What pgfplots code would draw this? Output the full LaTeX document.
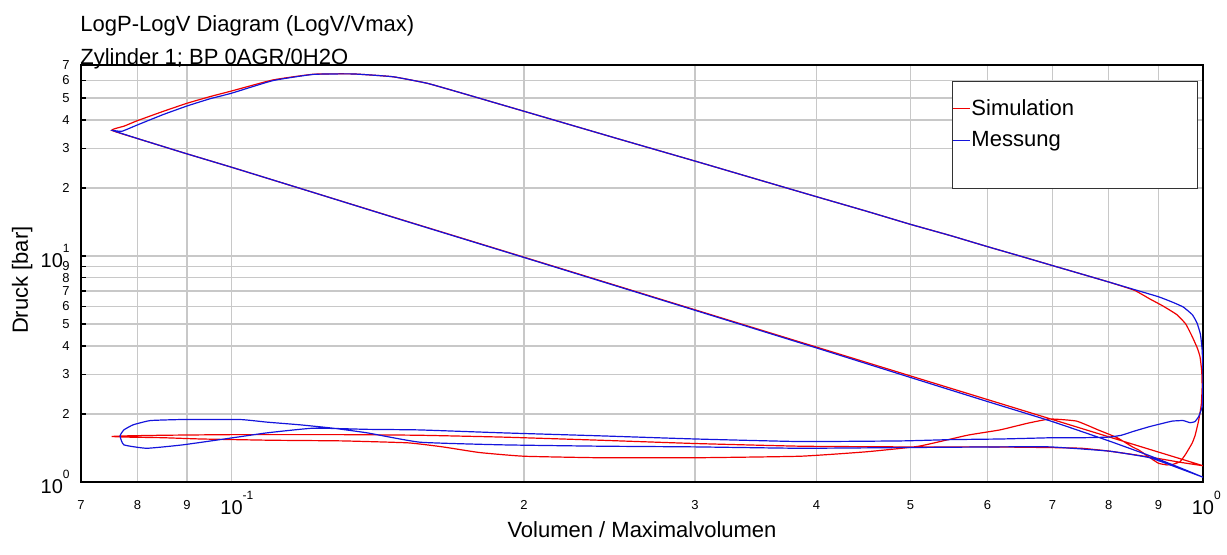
\documentclass[border=0pt]{standalone}
\usepackage{fontspec}
\setmainfont{Liberation Sans}
\usepackage{pgfplots}
\pgfplotsset{compat=1.18}
\definecolor{simred}{RGB}{240,0,0}
\definecolor{mesblue}{RGB}{20,20,220}
\definecolor{gridgray}{RGB}{200,200,200}
\newcommand{\mn}[1]{{\fontsize{6.5}{7}\selectfont #1}}
\newcommand{\xmj}[1]{{\fontsize{10}{11}\selectfont\makebox[0pt][c]{10\rlap{\smash{\raisebox{7.3pt}{\fontsize{6}{7}\selectfont #1}}}}}}
\newcommand{\ymj}[1]{{\fontsize{10}{11}\selectfont 10\raisebox{7.3pt}{\fontsize{6}{7}\selectfont #1}}}
\begin{document}
\begin{tikzpicture}
\begin{axis}[
  name=ax,
  scale only axis,
  width=561pt, height=208.5pt,
  xmode=log, ymode=log,
  xmin=0.07, xmax=1, ymin=1, ymax=70,
  xtick={0.07,0.08,0.09,0.1,0.2,0.3,0.4,0.5,0.6,0.7,0.8,0.9,1},
  xticklabels={\mn{7},\mn{8},\mn{9},\xmj{-1},\mn{2},\mn{3},\mn{4},\mn{5},\mn{6},\mn{7},\mn{8},\mn{9},\xmj{0}},
  ytick={1,2,3,4,5,6,7,8,9,10,20,30,40,50,60,70},
  yticklabels={\ymj{0},\mn{2},\mn{3},\mn{4},\mn{5},\mn{6},\mn{7},\mn{8},\mn{9},\ymj{1},\mn{2},\mn{3},\mn{4},\mn{5},\mn{6},\mn{7}},
  xticklabel style={anchor=north, inner sep=0pt, yshift=-9pt},
  yticklabel style={anchor=east, inner sep=0pt, xshift=-5.5pt},
  grid=major,
  major grid style={gridgray, line width=0.6pt},
  tick align=inside,
  major tick length=2.5pt,
  xtick style={draw=none},
  ytick style={black, line width=0.6pt},
  xtick pos=bottom, ytick pos=left,
  axis line style={black, line width=0.8pt},
  legend style={at={(1,1)}, anchor=north east, xshift=-2.5pt, yshift=-8pt,
    draw=black!80, line width=0.5pt, inner xsep=0pt, inner ysep=6.8pt, row sep=2.55pt,
    font=\fontsize{11}{13}\selectfont,
    nodes={inner xsep=0.5pt, inner ysep=2pt}},
  legend cell align=left,
  legend image code/.code={\draw[#1, line width=0.6pt] (0pt,0pt) -- (8.5pt,0pt);},
]
\addplot[simred, line width=0.6pt, smooth, tension=0.25] coordinates {
(1,1.18) (0.95,1.263) (0.9,1.356) (0.8,1.584) (0.7,1.89) (0.6,2.316) (0.5,2.946) (0.4,3.955) (0.3,5.78) (0.2,9.88) (0.15,14.43) (0.12,19.4) (0.1,24.7) (0.09,28.3) (0.08,33.1) (0.0753,36.0)
(0.0776,37.6) (0.0799,39.6) (0.085,43.6) (0.090,47.4) (0.095,50.7) (0.100,53.7) (0.1103,60.1) (0.1214,63.7) (0.1334,63.9) (0.1466,62.1) (0.159,58.1) (0.172,52.8)
(0.2,43.7) (0.25,33.0) (0.3,26.3) (0.35,21.65) (0.4,18.3) (0.45,15.8) (0.5,13.8) (0.55,12.3) (0.6,11.0) (0.65,9.96) (0.7,9.07) (0.75,8.32) (0.8,7.67) (0.85,7.05) (0.882,6.45) (0.91,6.0) (0.94,5.5) (0.96,5.0) (0.975,4.39) (0.987,3.9) (0.993,3.58) (0.997,3.1) (0.998,2.64) (0.996,2.2) (0.99,1.88) (0.982,1.62) (0.975,1.49) (0.96,1.33) (0.947,1.23) (0.93,1.195) (0.918,1.19) (0.90,1.21) (0.882,1.28) (0.86,1.38) (0.846,1.43) (0.816,1.57) (0.78,1.70) (0.741,1.86) (0.696,1.90) (0.66,1.82) (0.618,1.70) (0.572,1.61) (0.51,1.44) (0.45,1.36) (0.385,1.30) (0.30,1.28) (0.24,1.28) (0.20,1.30) (0.18,1.35) (0.165,1.43) (0.152,1.49) (0.13,1.52) (0.11,1.53) (0.093,1.55) (0.085,1.57) (0.078,1.58) (0.0753,1.59)
(0.078,1.60) (0.085,1.61) (0.10,1.62) (0.13,1.62) (0.156,1.61) (0.19,1.58) (0.24,1.53) (0.30,1.48) (0.385,1.44) (0.49,1.43) (0.6,1.43) (0.696,1.42) (0.75,1.41) (0.80,1.37) (0.85,1.32) (0.9,1.27) (0.95,1.22) (1,1.18)
};
\addlegendentry{\makebox[112.5pt][l]{Simulation}}
\addplot[mesblue, line width=0.6pt, smooth, tension=0.25] coordinates {
(1,1.05) (0.95,1.15) (0.88,1.31) (0.8,1.52) (0.7,1.85) (0.6,2.27) (0.5,2.90) (0.4,3.92) (0.3,5.75) (0.2,9.85) (0.15,14.4) (0.12,19.4) (0.1,24.7) (0.09,28.3) (0.08,33.1) (0.0755,35.9)
(0.0771,35.6) (0.080,38.0) (0.085,42.2) (0.090,46.1) (0.095,49.6) (0.100,52.5) (0.1103,59.7) (0.1214,63.6) (0.1334,63.9) (0.1466,62.1) (0.159,58.1) (0.172,52.8)
(0.2,43.7) (0.25,33.0) (0.3,26.3) (0.35,21.65) (0.4,18.3) (0.45,15.8) (0.5,13.8) (0.55,12.3) (0.6,11.0) (0.65,9.96) (0.7,9.07) (0.75,8.32) (0.8,7.67) (0.85,7.1) (0.9,6.6) (0.93,6.25) (0.954,5.95) (0.975,5.5) (0.986,5.05) (0.994,4.5) (0.998,3.84) (1.0,3.0) (0.999,2.4) (0.998,2.15) (0.99,1.95) (0.981,1.85) (0.97,1.83) (0.954,1.87) (0.93,1.86) (0.91,1.82) (0.882,1.76) (0.85,1.68) (0.824,1.61) (0.80,1.58) (0.75,1.57) (0.70,1.57) (0.62,1.55) (0.55,1.54) (0.49,1.52) (0.385,1.51) (0.30,1.55) (0.24,1.60) (0.19,1.65) (0.156,1.70) (0.1379,1.71) (0.1214,1.73) (0.1088,1.65) (0.1004,1.57) (0.0891,1.46) (0.0818,1.41) (0.0775,1.46) (0.0768,1.60)
(0.0775,1.70) (0.0792,1.79) (0.0825,1.87) (0.0891,1.89) (0.102,1.89) (0.1088,1.84) (0.1177,1.79) (0.1272,1.73) (0.1379,1.65) (0.1563,1.50) (0.19,1.46) (0.24,1.44) (0.30,1.43) (0.385,1.41) (0.49,1.42) (0.62,1.43) (0.696,1.43) (0.80,1.37) (0.882,1.28) (0.95,1.14) (1,1.05)
};
\addlegendentry{\makebox[112.5pt][l]{Messung}}
\addlegendimage{empty legend}
\addlegendentry{\rule{0pt}{2.65pt}}
\end{axis}
\node[anchor=base west, inner sep=0pt, font=\fontsize{11}{13}\selectfont] at ([xshift=-0.5pt,yshift=16.7pt]ax.north west) {LogP-LogV Diagram (LogV/Vmax)};
\node[anchor=base west, inner sep=0pt, font=\fontsize{11}{13}\selectfont] at ([xshift=-0.5pt,yshift=0.3pt]ax.north west) {Zylinder 1; BP 0AGR/0H2O};
\node[anchor=base, inner sep=0pt, font=\fontsize{11}{13}\selectfont] at ([yshift=-28pt]ax.south) {Volumen / Maximalvolumen};
\node[anchor=base, rotate=90, inner sep=0pt, font=\fontsize{11}{13}\selectfont] at ([xshift=-26.5pt,yshift=-3.3pt]ax.west) {Druck [bar]};
\pgfresetboundingbox
\path[use as bounding box] ([xshift=-40.5pt,yshift=-36.5pt]ax.south west) rectangle ([xshift=12pt,yshift=32.5pt]ax.north east);
\end{tikzpicture}
\end{document}
